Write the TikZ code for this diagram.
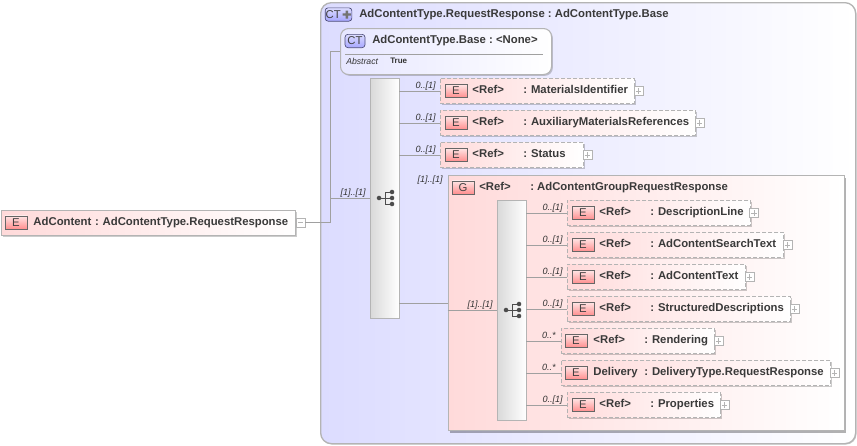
\documentclass[tikz,border=0pt]{standalone}
\usepackage{fontspec}
\setmainfont{Liberation Sans}
\usetikzlibrary{shadows}

\definecolor{linegray}{HTML}{A0A0A0}
\definecolor{boxgray}{HTML}{B4B4B4}
\definecolor{txtgray}{HTML}{3A3A3A}
\definecolor{pinkfill}{HTML}{FFDADA}
\definecolor{bluefill}{HTML}{DCDCFF}

\frenchspacing
\newcommand{\reftxt}[2]{\hspace*{24pt}\makebox[38.25pt][l]{#1}: #2}

\tikzset{
	conn/.style={draw=linegray,line width=.6pt},
	elemtxt/.style={text=txtgray,font=\fontsize{8.5}{10}\selectfont\bfseries},
	elembox/.style={elemtxt,draw=boxgray,dashed,dash pattern=on 3pt off 1.5pt,line width=.7pt,left color=pinkfill,right color=white,
		inner xsep=0pt,inner ysep=0pt,minimum height=18.75pt,text height=6pt,text depth=2.25pt,align=left,anchor=north west,
		drop shadow={shadow xshift=1pt,shadow yshift=-1pt,fill=black,opacity=.2}},
	ebadge/.style={draw=black!60,line width=.5pt,top color=pinkfill!70,bottom color=red!45,text=black!75,inner sep=0pt,minimum width=16.5pt,minimum height=10pt,font=\fontsize{8.5}{10}\selectfont},
	ctbadge/.style={draw=blue!25!black!70,line width=.5pt,rounded corners=2.2pt,top color=bluefill,bottom color=blue!35,text=black!75,inner sep=0pt,minimum height=10pt,font=\fontsize{8.5}{10}\selectfont},
	xbox/.style={draw=boxgray,line width=.4pt,fill=white,inner sep=0pt,minimum size=6.5pt},
	plusbox/.style={xbox,path picture={
		\draw[boxgray,line width=.4pt] ([xshift=-2pt]path picture bounding box.center) -- ([xshift=2pt]path picture bounding box.center);
		\draw[boxgray,line width=.4pt] ([yshift=-2pt]path picture bounding box.center) -- ([yshift=2pt]path picture bounding box.center);}},
	minusbox/.style={xbox,path picture={
		\draw[boxgray,line width=.4pt] ([xshift=-2pt]path picture bounding box.center) -- ([xshift=2pt]path picture bounding box.center);}},
	seqbox/.style={draw=boxgray,line width=.7pt,left color=black!15,right color=white,inner sep=0pt,minimum width=21.75pt,
		drop shadow={shadow xshift=1pt,shadow yshift=-1pt,fill=black,opacity=.2}},
	mult/.style={anchor=base east,inner sep=0pt,text=black!80,font=\fontsize{6.8}{8}\selectfont\itshape},
	seqicon/.pic={
		\draw[black!70,line width=.5pt] (-7,0) -- (-1,0) (-1,-6) -- (-1,6) (-1,-6) -- (6,-6) (-1,0) -- (6,0) (-1,6) -- (6,6);
		\fill[black!70] (-7,0) circle (1.7pt) (6,-6) circle (1.7pt) (6,0) circle (1.7pt) (6,6) circle (1.7pt);
	},
}

\begin{document}
\begin{tikzpicture}[x=.75pt,y=-.75pt]
	\useasboundingbox (0,0) rectangle (857,446);

	% complex type frame
	\node[draw=boxgray,line width=1pt,rounded corners=8pt,left color=bluefill,right color=white,inner sep=0pt,minimum width=401.25pt,minimum height=330.75pt,anchor=north west,
		drop shadow={shadow xshift=.7pt,shadow yshift=-.7pt,fill=black,opacity=.2}] at (320,2) (frame) {};
	\node[ctbadge,minimum width=20pt] at (338.5,14.5) (ctp) {\hspace*{-8pt}CT};
	\fill[black!55] (345.5,10.5) rectangle (348,18.5) (342.7,13.3) rectangle (350.8,15.7);
	\node[elemtxt,anchor=base west,inner sep=0pt] at (359,17) (ftitle) {AdContentType.RequestResponse : AdContentType.Base};

	% base type
	\node[draw=boxgray,line width=.8pt,rounded corners=6pt,left color=bluefill!70,right color=white,inner sep=0pt,minimum width=158.25pt,minimum height=34.5pt,anchor=north west,
		drop shadow={shadow xshift=1pt,shadow yshift=-1pt,fill=black,opacity=.2}] at (340,28) (base) {};
	\node[ctbadge,minimum width=15pt] at (355,41) (ct) {CT};
	\node[elemtxt,anchor=base west,inner sep=0pt] at (372,43) (btitle) {AdContentType.Base : <None>};
	\draw[linegray,line width=.5pt] (345,54) -- (543,54);
	\node[anchor=base west,inner sep=0pt,text=black!80,font=\fontsize{6.5}{8}\selectfont\itshape] at (346,64) (abs) {Abstract};
	\node[anchor=base west,inner sep=0pt,text=black!80,font=\fontsize{6}{8}\selectfont\bfseries] at (390,63) (abst) {True};

	% root element
	\node[elembox,solid,minimum height=18.75pt,text width=220.5pt] at (1,210) (root) {\hspace*{24pt}AdContent : AdContentType.RequestResponse};
	\node[ebadge] at (16,222.5) (rootb) {E};
	\node[minusbox] at (300.5,222.5) (rootx) {};
	\coordinate (j1) at (330,222.5);
	\draw[conn] (rootx.east) -- (j1) |- (base.west);

	% outer sequence
	\node[seqbox,minimum height=180pt] at (384.5,198) (seq1) {};
	\pic at (386,198) {seqicon};
	\draw[conn] (j1 |- seq1.west) -- (seq1.west);
	\node[mult] at (366,195) (m0) {[1]..[1]};

	\node[elembox,text width=145.5pt] at (440,78) (e1) {\reftxt{<Ref>}{MaterialsIdentifier}};
	\node[elembox,text width=191.25pt] at (440,110) (e2) {\reftxt{<Ref>}{AuxiliaryMaterialsReferences}};
	\node[elembox,text width=107.25pt] at (440,142) (e3) {\reftxt{<Ref>}{Status}};
	\node[ebadge] at (456,91) (b1) {E};
	\node[ebadge] at (456,123) (b2) {E};
	\node[ebadge] at (456,155) (b3) {E};
	\node[plusbox] at (638.5,91) (p1) {};
	\node[plusbox] at (699.5,123) (p2) {};
	\node[plusbox] at (587.5,155) (p3) {};
	\node[mult] at (436,88) (m1) {0..[1]};
	\node[mult] at (436,120) (m2) {0..[1]};
	\node[mult] at (436,152) (m3) {0..[1]};
	\draw[conn] (seq1.east |- e1.west) -- (e1.west);
	\draw[conn] (seq1.east |- e2.west) -- (e2.west);
	\draw[conn] (seq1.east |- e3.west) -- (e3.west);

	% group
	\node[draw=boxgray,line width=.8pt,left color=pinkfill,right color=white,inner sep=0pt,minimum width=297pt,minimum height=191.25pt,anchor=north west,
		drop shadow={shadow xshift=1.6pt,shadow yshift=-1.6pt,fill=black,opacity=.3}] at (447.5,175) (group) {};
	\node[ebadge] at (463,187.5) (gb) {G};
	\node[elemtxt,anchor=base west,inner sep=0pt] at (479,190) (gref) {<Ref>};
	\node[elemtxt,anchor=base west,inner sep=0pt] at (530,190) (gname) {: AdContentGroupRequestResponse};
	\node[mult] at (443,182) (gm) {[1]..[1]};
	\draw[conn] (seq1.east |- group.west) -- (group.west);

	% inner sequence
	\node[seqbox,minimum height=165pt] at (511.5,310) (seq2) {};
	\pic at (513,310) {seqicon};
	\draw[conn] (group.west |- seq2.west) -- (seq2.west);
	\node[mult] at (493,307) (m4) {[1]..[1]};

	\node[elembox,text width=137.25pt] at (567,200) (e4) {\reftxt{<Ref>}{DescriptionLine}};
	\node[elembox,text width=162pt] at (567,232) (e5) {\reftxt{<Ref>}{AdContentSearchText}};
	\node[elembox,text width=133.5pt] at (567,264) (e6) {\reftxt{<Ref>}{AdContentText}};
	\node[elembox,text width=167.25pt] at (567,296) (e7) {\reftxt{<Ref>}{StructuredDescriptions}};
	\node[elembox,text width=114.75pt] at (561,328) (e8) {\reftxt{<Ref>}{Rendering}};
	\node[elembox,text width=201.75pt] at (561,360) (e9) {\reftxt{Delivery}{DeliveryType.RequestResponse}};
	\node[elembox,text width=114.75pt] at (567,392) (e10) {\reftxt{<Ref>}{Properties}};
	\node[ebadge] at (583,213) (b4) {E};
	\node[ebadge] at (583,245) (b5) {E};
	\node[ebadge] at (583,277) (b6) {E};
	\node[ebadge] at (583,309) (b7) {E};
	\node[ebadge] at (576,341) (b8) {E};
	\node[ebadge] at (576,373) (b9) {E};
	\node[ebadge] at (583,405) (b10) {E};
	\node[plusbox] at (754,213) (p4) {};
	\node[plusbox] at (787.5,245) (p5) {};
	\node[plusbox] at (749.5,277) (p6) {};
	\node[plusbox] at (794.5,309) (p7) {};
	\node[plusbox] at (718.5,341) (p8) {};
	\node[plusbox] at (834.5,373) (p9) {};
	\node[plusbox] at (724.5,405) (p10) {};
	\node[mult] at (563,210) (m5) {0..[1]};
	\node[mult] at (563,242) (m6) {0..[1]};
	\node[mult] at (563,274) (m7) {0..[1]};
	\node[mult] at (563,306) (m8) {0..[1]};
	\node[mult] at (556,338) (m9) {0..*};
	\node[mult] at (556,370) (m10) {0..*};
	\node[mult] at (563,402) (m11) {0..[1]};
	\draw[conn] (seq2.east |- e4.west) -- (e4.west);
	\draw[conn] (seq2.east |- e5.west) -- (e5.west);
	\draw[conn] (seq2.east |- e6.west) -- (e6.west);
	\draw[conn] (seq2.east |- e7.west) -- (e7.west);
	\draw[conn] (seq2.east |- e8.west) -- (e8.west);
	\draw[conn] (seq2.east |- e9.west) -- (e9.west);
	\draw[conn] (seq2.east |- e10.west) -- (e10.west);
\end{tikzpicture}
\end{document}
